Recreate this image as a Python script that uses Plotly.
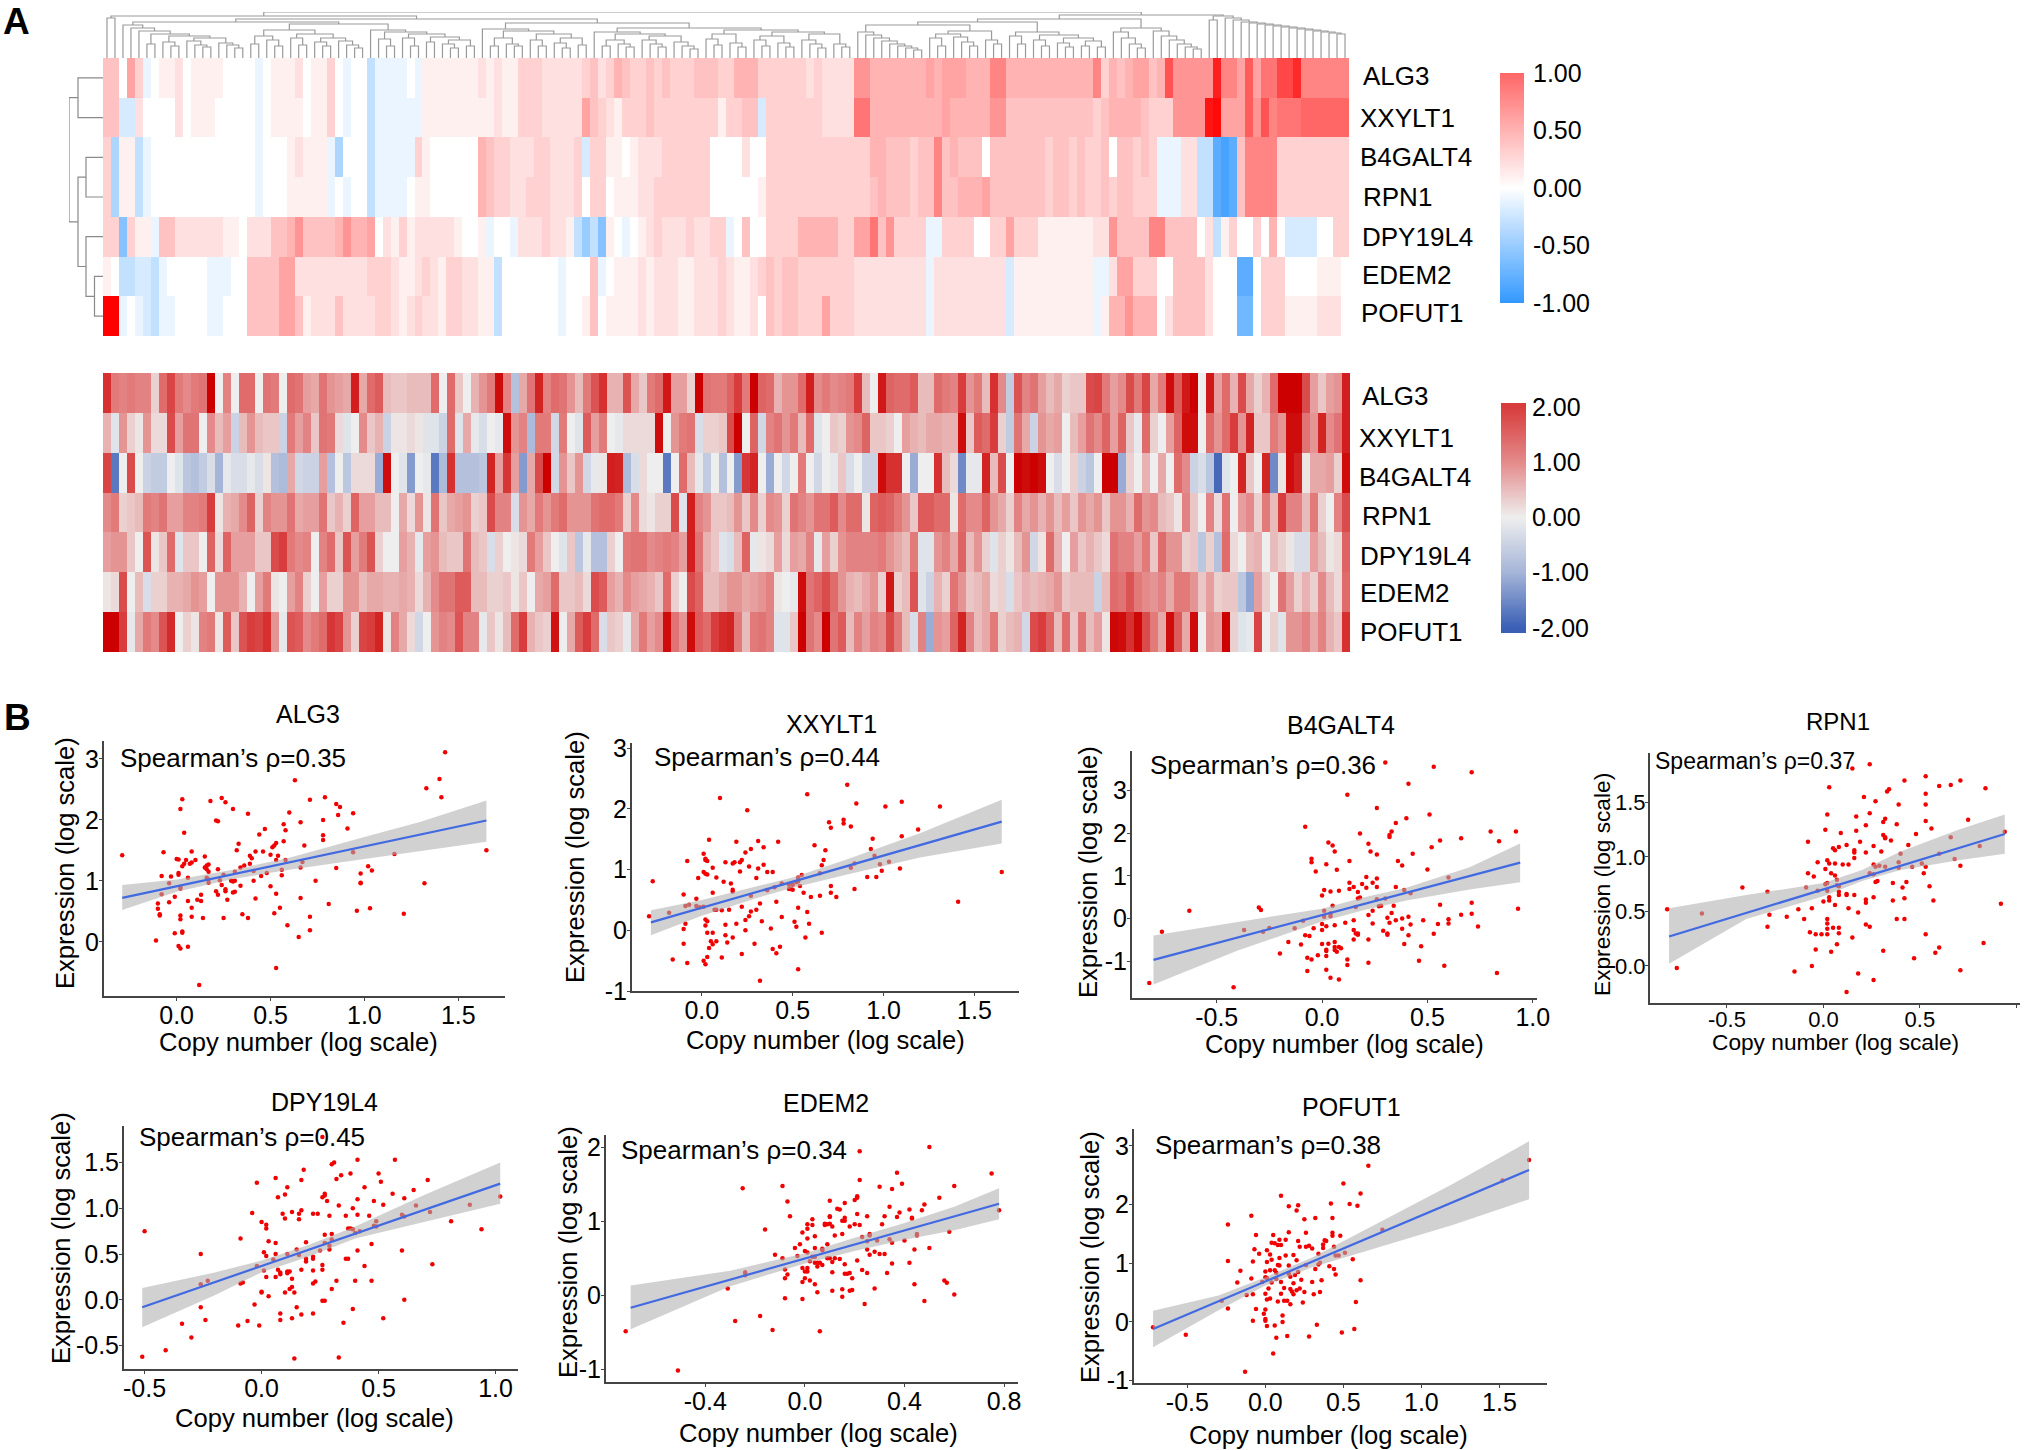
import numpy as np
import plotly.graph_objects as go

W, H = 2030, 1450
FONT = "Liberation Sans"
GENES = ["ALG3", "XXYLT1", "B4GALT4", "RPN1", "DPY19L4", "EDEM2", "POFUT1"]

# Upper heat map, correlation per sample in tenths, one list per gene
A_ALG3 = [4,4,0,6,3,-1,0,1,1,2,0,1,1,1,1,0,0,0,0,-1,
 0,1,1,1,2,0,1,1,3,0,-1,0,0,-3,-1,-1,-1,-1,0,-1,
 1,1,1,1,1,1,1,2,1,2,1,1,3,3,3,2,2,2,2,2,
 3,4,2,3,5,4,3,3,4,3,4,3,3,3,4,4,4,3,3,5,
 5,5,3,3,3,3,3,3,2,3,2,2,2,2,7,7,5,5,5,5,
 5,5,5,6,5,6,6,6,5,5,5,8,8,5,5,5,5,5,5,5,
 5,5,5,5,8,3,5,4,5,6,6,4,5,12,7,7,7,7,7,17,
 8,8,6,11,6,9,9,13,13,16,8,8,8,8,8,8]
A_XXYLT1 = [4,4,-2,-2,2,0,0,0,0,2,0,1,1,1,0,0,0,0,0,-1,
 0,1,1,1,1,0,1,1,3,0,-1,0,0,-3,-1,-1,-1,-1,-1,-1,
 1,1,1,1,1,1,1,1,1,2,1,1,3,3,3,2,2,2,2,2,
 6,4,3,2,1,3,3,3,4,3,3,3,3,3,3,3,3,1,3,3,
 4,4,-2,3,3,3,3,3,3,3,2,2,2,2,9,9,5,5,5,5,
 5,5,5,5,5,6,5,5,5,5,5,7,7,4,4,4,4,4,4,4,
 4,4,4,4,3,4,5,5,5,5,4,3,3,3,7,7,7,7,18,19,
 6,6,6,11,7,12,8,9,9,9,10,10,10,10,10,10]
A_B4GALT4 = [3,-4,1,1,-3,-1,0,0,0,0,0,0,0,0,0,0,0,0,0,-1,
 0,0,0,1,2,1,1,1,-1,-4,0,0,0,-3,-1,-1,-1,-1,-1,3,
 1,0,0,0,0,0,0,5,4,3,3,2,2,2,3,3,2,2,2,3,
 -2,3,3,1,1,0,1,2,2,2,3,3,3,3,3,3,0,0,0,0,
 2,0,0,3,3,3,3,3,3,3,3,3,3,3,3,3,5,5,4,4,
 4,3,4,4,8,4,5,4,4,4,0,4,4,4,4,4,4,4,3,4,
 4,3,4,3,3,4,0,4,4,3,4,3,-1,-1,-1,2,2,-3,-3,-8,
 -9,-8,4,8,8,8,8,3,3,3,3,3,3,3,3,3]
A_RPN1 = [3,-4,1,1,-3,-1,0,0,0,0,0,0,0,0,0,0,0,0,0,-1,
 0,0,0,1,1,1,1,1,-1,0,-1,0,0,-3,-1,-1,-1,-1,0,1,
 1,0,0,0,0,0,0,5,4,3,3,2,2,3,3,3,2,2,2,3,
 0,3,3,0,1,1,1,2,2,3,3,3,3,3,3,3,0,0,0,0,
 0,0,1,3,3,3,3,3,3,3,3,3,3,3,3,3,4,5,4,4,
 4,3,4,4,8,4,4,5,5,5,6,4,4,4,4,4,4,4,3,4,
 4,3,4,3,3,4,3,4,4,3,3,3,-1,-1,-1,2,2,-3,-3,-8,
 -9,-8,4,8,8,8,8,3,3,3,3,3,3,3,3,3]
A_DPY19L4 = [3,3,-6,3,1,1,-1,4,4,2,2,2,2,2,2,1,1,0,2,2,
 2,4,4,5,7,4,4,4,4,5,7,5,5,6,0,2,1,3,1,2,
 2,2,2,2,1,0,0,1,-1,0,0,-1,2,2,2,3,2,2,1,-3,
 -5,-3,-6,1,0,-1,0,1,2,3,2,2,2,3,2,2,3,3,-1,0,
 4,0,0,3,3,3,3,5,5,5,5,5,3,3,6,6,9,4,7,3,
 3,3,3,-1,-1,3,3,3,3,0,0,3,3,6,3,3,3,1,1,1,
 1,1,1,1,2,2,7,4,4,4,4,8,8,4,4,4,4,0,2,-3,
 1,3,0,0,3,0,5,0,-2,-2,-2,-2,0,0,3,3]
A_EDEM2 = [1,0,-3,-3,-2,-2,-3,-1,0,0,0,0,0,-1,-1,-1,0,0,4,4,
 4,4,6,6,2,2,2,2,2,2,2,2,2,3,3,3,2,1,1,2,
 3,2,1,3,3,2,2,1,1,-3,0,0,0,0,0,0,0,-1,0,0,
 0,4,-1,0,1,1,1,2,1,2,2,2,1,1,2,2,2,3,2,1,
 1,2,3,4,3,4,4,3,3,3,3,3,3,3,2,2,2,2,2,2,
 2,2,2,-1,2,2,2,2,2,2,2,2,2,-2,1,1,1,1,1,1,
 1,1,1,1,-1,-1,2,6,6,3,3,3,0,0,4,4,4,4,2,0,
 0,0,-8,-8,0,3,3,3,0,0,0,0,1,1,1,0]
A_POFUT1 = [20,20,-1,0,-1,-2,-3,-1,-1,0,0,0,0,-1,-1,0,0,0,4,4,
 4,4,6,6,4,1,2,2,2,4,2,2,2,2,3,3,2,1,2,3,
 2,2,1,3,3,2,2,1,1,-3,0,0,0,0,0,0,0,-1,0,0,
 1,4,0,1,1,1,1,2,1,2,2,2,1,1,2,2,2,3,2,1,
 1,2,0,4,3,4,4,3,3,3,6,3,3,3,2,2,2,2,2,2,
 2,2,2,-1,2,2,2,2,2,2,2,2,2,-2,1,1,1,1,1,1,
 1,1,1,1,-1,1,5,5,7,5,5,5,0,2,4,4,4,4,2,0,
 0,0,-7,-7,0,3,3,3,1,1,1,1,2,2,2,0]

# Lower heat map, expression per sample in tenths
B_ALG3 = [22,12,11,12,11,11,3,14,19,12,10,12,13,30,0,11,0,14,14,0,
 13,12,0,14,13,8,7,13,9,8,7,25,7,14,16,5,4,4,5,5,
 5,14,0,14,4,0,6,9,12,28,11,-8,7,13,24,11,14,13,9,5,
 12,17,22,6,6,17,7,4,12,14,26,8,8,3,30,13,12,12,15,20,
 12,30,15,14,6,9,9,14,25,10,12,10,11,12,20,5,0,26,15,14,
 14,16,5,5,14,12,11,20,9,12,5,22,10,-6,17,11,13,8,5,7,
 3,4,4,18,19,12,8,10,18,12,19,7,12,28,16,26,30,0,26,8,
 14,6,18,7,3,6,14,32,32,32,18,8,4,8,9,25]
B_XXYLT1 = [6,-2,9,3,1,9,2,2,18,8,13,13,0,10,5,8,-5,5,9,5,
 4,4,-5,12,8,11,4,13,12,2,-2,0,10,4,6,-5,1,1,2,1,
 -2,-2,-5,14,-2,7,-1,-3,0,-1,28,9,11,-9,12,12,-4,12,0,-2,
 16,8,12,0,-1,2,2,2,2,28,0,9,12,13,-3,3,3,4,18,32,
 0,15,-4,11,13,9,12,5,14,-2,0,4,3,9,10,15,4,4,3,0,
 8,6,5,7,7,6,6,28,4,16,14,20,3,-6,13,7,-5,9,7,8,
 0,5,8,13,10,15,8,15,4,-1,14,3,0,8,15,28,28,0,14,9,
 14,20,9,24,4,4,12,9,28,28,13,9,24,10,13,25]
B_B4GALT4 = [19,-17,0,18,0,-5,-6,-6,0,-2,-7,-8,-6,-3,-10,-1,-3,-3,-1,-3,
 1,-8,-9,7,-4,-5,-5,8,-8,0,-7,2,2,2,-11,28,0,-2,-13,0,
 -1,-17,-9,22,-8,-8,-8,-7,24,8,21,8,-13,7,18,30,-4,9,4,9,
 -4,-1,1,25,24,-9,-3,2,0,0,-17,0,14,5,-1,-6,0,-8,0,-13,
 21,24,0,-11,0,-4,0,12,0,-4,0,-1,4,-3,0,-5,-5,28,22,22,
 0,-11,0,0,22,5,2,-15,-1,-1,24,5,18,0,30,28,30,28,0,-3,
 0,3,-5,-7,0,30,30,-11,3,0,6,0,7,0,14,10,-5,-3,-7,-19,
 -2,0,24,4,0,24,-15,1,28,24,1,7,7,8,3,28]
B_RPN1 = [10,12,3,4,5,12,11,13,8,8,11,11,12,20,1,6,7,10,15,3,
 11,9,9,13,7,8,8,13,4,6,3,15,8,8,5,5,0,7,2,9,
 1,13,4,7,8,9,3,4,18,11,11,-3,9,7,12,9,12,14,9,9,
 9,13,14,14,12,3,10,2,1,3,3,18,-2,25,11,9,4,4,5,9,
 4,10,3,10,9,3,13,11,9,13,13,16,10,14,14,1,15,16,15,12,
 9,4,16,16,14,14,1,14,10,10,15,9,7,3,11,7,9,6,9,5,
 8,4,9,7,9,4,9,9,6,14,9,10,5,4,1,11,4,0,11,2,
 13,0,8,10,3,12,5,20,11,11,5,12,3,0,11,18]
B_DPY19L4 = [8,9,9,4,0,17,1,4,14,-2,4,4,0,15,2,15,8,8,8,4,
 4,18,20,12,10,11,0,11,14,4,17,8,12,17,3,0,0,8,6,-1,
 8,9,5,4,4,13,5,4,-3,3,0,1,2,12,8,4,0,-2,4,-7,
 -1,-8,-8,3,0,12,13,13,10,11,12,11,8,25,13,6,4,-2,-3,5,
 15,-1,1,2,8,2,8,7,11,-1,8,3,9,11,11,11,11,12,9,7,
 5,12,-2,-2,9,11,7,15,5,9,3,-2,3,1,5,9,-4,1,14,6,
 0,8,4,6,4,2,13,11,11,8,12,4,14,9,9,3,4,-7,3,-8,
 14,2,0,5,6,0,5,3,1,-3,-3,8,5,1,2,15]
B_EDEM2 = [1,2,18,0,5,-3,3,3,6,6,7,9,8,0,9,9,9,6,0,8,
 12,1,0,8,11,3,0,8,3,3,9,9,5,7,7,6,6,7,6,2,
 6,10,13,13,16,16,5,5,3,3,4,1,4,0,7,8,14,4,4,5,
 2,18,16,8,6,10,8,7,6,4,14,3,0,18,15,5,5,7,9,9,
 7,8,9,11,1,0,-1,28,13,15,18,14,9,6,5,7,9,3,26,3,
 5,17,-2,-5,6,3,13,9,4,5,7,2,3,-3,4,6,5,6,7,9,
 4,5,5,5,-5,5,14,13,17,12,10,9,11,7,12,12,9,4,8,3,
 4,4,-7,-12,8,3,0,13,8,3,6,3,10,5,2,14]
B_POFUT1 = [30,30,20,-1,7,12,10,17,23,0,3,1,11,12,1,16,4,17,20,19,
 22,9,-1,17,16,10,12,14,21,19,9,3,19,20,24,1,11,7,2,-4,
 0,9,11,10,17,11,11,-1,4,1,5,14,20,6,4,3,27,0,7,16,
 20,14,-3,4,3,-1,7,12,8,10,28,13,9,28,16,14,20,23,24,12,
 5,12,13,11,-2,-2,4,30,13,10,32,13,16,5,11,8,11,10,18,12,
 5,-3,11,-11,9,8,15,24,11,5,7,12,3,5,6,-4,18,20,15,5,
 14,4,13,5,8,1,29,28,22,29,18,12,7,28,16,7,28,0,9,8,
 30,3,-2,-1,19,0,3,-2,9,9,11,7,11,6,4,22]

# Copy number / expression pairs per gene
PTS_ALG3 = [(-.29,1.42),(-.07,1.47),(-.08,1.08),(-.03,1.07),(-.04,.96),(-.08,.78),(-.01,.74),(-.04,.65),(-.10,.63),(-.10,.54),(-.09,.45),(-.09,.43),(-.11,.02),(-.01,.14),(.01,-.07),(.02,-.11),(.06,-.08),(.03,.15),(.03,.17),(.02,.37),(.02,.43),(.08,.41),(.08,.56),(.06,.67),(.11,.69),(.13,.67),(.13,.77),(.14,.39),(.12,-.71),(0,1.36),(.01,1.35),(.01,1.13),(.01,1.1),(.02,.87),(.02,.9),(.06,1.05),(.03,1.24),(.04,1.28),(.05,1.34),(.07,1.28),(.08,1.3),(.10,1.34),(.08,1.48),(.15,1.4),(.17,1.27),(.16,1.25),(.15,1.22),(.16,1.19),(.17,1.15),(.16,1.05),(.17,1.02),(.17,.97),(.22,1.19),(.21,.83),(.22,.77),(.25,1.1),(.23,1.01),(.24,.93),(.26,.86),(.26,.83),(.27,.69),(.25,.39),(.29,1.0),(.30,.99),(.31,1.0),(.31,1.15),(.31,.82),(.30,.81),(.34,1.22),(.36,1.25),(.34,.92),(.35,.45),(.38,.39),(.32,1.5),(.33,1.61),(.39,1.41),(.40,1.37),(.39,1.28),(.42,1.48),(.41,1.16),(.41,1.0),(.42,.71),(.45,1.08),(.46,1.48),(.48,1.13),(.5,1.43),(.5,.91),(.53,.79),(.52,.47),(.55,.56),(.53,-.43),(.44,1.76),(.47,1.85),(.51,1.55),(.52,1.58),(.53,1.62),(.57,1.65),(.57,1.93),(.58,1.83),(.54,1.41),(.53,1.34),(.58,1.34),(.56,1.18),(.56,1.09),(.60,2.12),(.59,.27),(.63,2.65),(.66,1.96),(.66,1.22),(.66,.72),(.67,1.31),(.68,1.58),(.65,.08),(.71,2.33),(.71,.41),(.71,.19),(.74,1.0),(.79,2.37),(.78,2.0),(.78,1.75),(.78,1.67),(.81,.62),(.85,2.26),(.87,2.21),(.86,2.08),(.85,1.21),(.94,2.11),(.91,1.86),(.94,1.47),(.98,1.12),(.98,.97),(.98,.96),(.96,.51),(1.02,1.24),(1.04,1.17),(1.03,.55),(1.16,1.44),(1.21,.46),(1.32,.96),(1.33,2.52),(1.40,2.67),(1.41,2.37),(1.43,3.11),(1.65,1.5),(.02,2.18),(.03,2.34),(.04,1.79),(.18,2.31),(.24,2.36),(.26,2.29),(.30,2.18),(.21,1.99),(.22,1.98),(.38,2.1)]
PTS_XXYLT1 = [(-.29,.23),(-.27,.81),(-.18,.29),(-.16,-.48),(-.10,.59),(-.08,1.14),(-.09,.40),(-.07,.42),(-.09,.11),(-.10,.02),(-.10,-.22),(-.08,-.54),(-.03,.52),(-.03,.40),(-.02,.86),(-.01,.38),(.01,.96),(.01,.39),(.01,1.26),(.02,1.18),(.02,1.16),(.03,1.14),(.02,.93),(.03,.92),(.02,.18),(.03,.15),(.02,.08),(.03,-.04),(.01,-.50),(.03,-.44),(.02,-.56),(.04,-.29),(.05,-.18),(.06,-.04),(.06,-.23),(.08,-.18),(.04,1.49),(.06,1.03),(.06,.62),(.07,.34),(.08,.34),(.08,.87),(.11,.33),(.11,-.45),(.10,2.18),(.12,.80),(.13,1.12),(.13,.09),(.13,-.08),(.14,-.20),(.15,.34),(.16,.77),(.17,.67),(.17,.64),(.17,-.12),(.17,1.10),(.18,1.12),(.19,1.46),(.19,.11),(.21,1.12),(.22,1.16),(.21,.97),(.22,.39),(.22,-.39),(.24,1.28),(.25,1.98),(.26,1.05),(.24,.17),(.24,0),(.26,.23),(.27,1.34),(.27,.57),(.27,.31),(.29,-.22),(.30,.34),(.31,1.47),(.31,1.02),(.30,.86),(.32,.44),(.33,.15),(.32,-.83),(.34,1.08),(.34,1.37),(.36,.96),(.36,.66),(.39,.96),(.38,.03),(.39,-.31),(.41,-.38),(.42,1.46),(.41,.47),(.43,-.27),(.44,.22),(.40,.71),(.44,.77),(.48,.75),(.48,.68),(.50,.75),(.49,.68),(.50,.67),(.52,.79),(.53,.87),(.53,.81),(.54,.73),(.55,.91),(.56,.62),(.53,.37),(.51,.14),(.52,.06),(.57,-.12),(.58,.30),(.59,.11),(.53,-.64),(.60,.55),(.58,2.24),(.62,1.40),(.65,.57),(.65,.94),(.66,1.07),(.66,-.04),(.68,1.32),(.67,1.16),(.70,1.78),(.71,1.69),(.71,.73),(.71,.62),(.74,.55),(.78,1.82),(.78,1.76),(.82,1.71),(.80,2.40),(.85,2.09),(.82,1.03),(.84,1.10),(.84,.68),(.91,.88),(.93,1.34),(.94,1.51),(.95,1.23),(.96,.88),(.98,1.09),(.99,.98),(1.01,2.04),(1.03,1.13),(1.09,1.02),(1.10,1.55),(1.10,2.12),(1.19,1.66),(1.31,2.04),(1.41,.47),(1.65,.96)]
PTS_B4GALT4 = [(-.82,-1.51),(-.76,-.31),(-.63,.18),(-.42,-1.61),(-.37,-.27),(-.30,.26),(-.29,.2),(-.28,-.31),(-.25,-.22),(-.20,-.82),(-.16,-.55),(-.13,-.23),(-.10,-.61),(-.09,-.05),(-.08,-.39),(-.08,2.15),(-.07,-1.23),(-.06,-.41),(-.07,-.92),(-.05,1.40),(-.05,1.32),(-.05,-.96),(-.04,-.23),(-.03,1.10),(-.02,-.86),(0,.54),(0,-.13),(0,-.60),(0,-.27),(.01,.67),(.01,.04),(.01,.18),(.02,-.18),(.02,1.27),(.02,-1.20),(.02,-.76),(.02,-.73),(.03,1.78),(.02,-.88),(.04,.63),(.04,.12),(.04,.05),(.04,-1.39),(.05,1.71),(.06,1.57),(.05,.30),(.06,-.55),(.06,-.16),(.03,-.59),(.06,-.67),(.06,-.74),(.07,-.78),(.08,-.67),(.09,-.70),(.07,1.14),(.08,.65),(.08,-1.43),(.11,-.10),(.12,-.96),(.12,-1.09),(.12,2.90),(.13,1.35),(.13,.84),(.13,.69),(.15,-.04),(.15,.74),(.15,-.27),(.15,-.49),(.16,.27),(.16,-.35),(.17,-.38),(.17,-.35),(.17,.47),(.18,.49),(.17,.62),(.18,1.99),(.19,.81),(.21,.72),(.21,.97),(.22,.08),(.22,1.75),(.22,-.49),(.22,-1.04),(.23,1.57),(.24,.84),(.24,.18),(.24,-.12),(.26,.94),(.26,2.59),(.26,1.50),(.26,.74),(.26,.45),(.27,.29),(.28,.30),(.29,-.29),(.30,.47),(.30,3.66),(.31,.02),(.31,-.38),(.31,-.35),(.32,1.91),(.32,1.96),(.33,2.04),(.32,-.10),(.34,.30),(.33,.13),(.35,2.24),(.35,.74),(.35,-.04),(.36,1.35),(.38,1.24),(.38,-.24),(.38,0),(.39,.67),(.39,-.60),(.40,2.35),(.41,3.16),(.41,.04),(.41,-.39),(.42,.59),(.42,-.14),(.43,1.52),(.46,-.99),(.47,-.65),(.48,-.04),(.50,1.15),(.51,2.44),(.52,1.67),(.53,-.36),(.53,3.56),(.55,-.13),(.56,.32),(.56,1.83),(.58,-1.11),(.60,.96),(.60,-.02),(.60,-.12),(.66,.09),(.66,1.88),(.71,3.43),(.71,.37),(.71,.11),(.74,-.19),(.80,2.04),(.83,-1.28),(.84,1.81),(.92,2.04),(.93,.23)]
PTS_RPN1 = [(-.81,.52),(-.76,-.02),(-.63,.48),(-.42,.72),(-.29,.68),(-.29,.36),(-.28,.47),(-.19,.45),(-.15,-.05),(-.13,.52),(-.10,.43),(-.09,.72),(-.08,1.14),(-.08,.85),(-.06,.53),(-.07,.31),(-.06,0),(-.05,.82),(-.04,.29),(-.04,.15),(-.03,.69),(-.03,.95),(-.01,.29),(0,.59),(.01,1.25),(.01,.89),(.01,.75),(.02,.97),(.02,.76),(.02,.69),(.02,.29),(.02,.43),(.02,.39),(.02,.34),(.02,1.39),(.03,1.64),(.03,.94),(.03,.63),(.03,.6),(.04,.85),(.05,1.08),(.04,.13),(.06,1.06),(.06,.94),(.05,.35),(.06,.56),(.06,.83),(.07,.79),(.07,.74),(.08,.73),(.08,.68),(.08,.65),(.08,.35),(.08,.3),(.07,.2),(.09,1.22),(.08,1.09),(.10,.93),(.12,1.11),(.13,.93),(.12,.66),(.12,.65),(.13,.53),(.12,-.24),(.15,.26),(.16,.99),(.16,1.06),(.16,1.04),(.16,.65),(.17,1.37),(.17,1.24),(.18,.49),(.18,-.07),(.19,1.14),(.21,1.55),(.22,1.04),(.22,.58),(.22,.61),(.22,.38),(.22,1.29),(.24,.36),(.24,1.40),(.24,.85),(.26,1.10),(.26,.93),(.27,.91),(.26,.84),(.26,-.13),(.26,.63),(.27,.77),(.28,.78),(.27,1.51),(.29,.92),(.30,1.05),(.31,1.32),(.31,.14),(.32,.91),(.31,1.20),(.32,1.18),(.32,1.17),(.32,1.35),(.33,1.60),(.34,1.62),(.35,1.15),(.36,.76),(.36,.6),(.38,1.30),(.39,1.48),(.39,.90),(.39,.95),(.38,.43),(.40,1.03),(.41,.72),(.42,.62),(.42,.43),(.43,.77),(.42,1.70),(.44,1.11),(.47,.07),(.46,.91),(.48,1.21),(.51,.94),(.52,.85),(.53,.91),(.53,1.74),(.53,1.58),(.53,1.48),(.53,1.33),(.53,.29),(.55,.73),(.56,1.26),(.57,.6),(.58,.12),(.60,.17),(.60,1.03),(.60,1.65),(.66,1.66),(.66,1.18),(.68,.98),(.71,1.70),(.71,.92),(.71,-.04),(.75,1.34),(.81,1.10),(.84,1.63),(.83,.21),(.92,.57),(.94,1.23),(.15,1.81),(.24,1.85)]
PTS_DPY19L4 = [(-.51,-.62),(-.50,.75),(-.41,-.55),(-.34,-.26),(-.30,-.41),(-.26,.50),(-.26,.17),(-.26,-.08),(-.24,-.22),(-.23,.21),(-.10,-.28),(-.09,.67),(-.09,.18),(-.08,.19),(-.06,-.23),(-.04,.95),(-.03,-.05),(-.02,1.28),(-.02,.37),(-.01,-.28),(0,.85),(0,.09),(0,.08),(.01,.32),(.01,.52),(.02,.82),(.02,.78),(.02,.25),(.02,.48),(.03,.04),(.03,.64),(.05,.44),(.06,.25),(.06,1.33),(.06,.62),(.06,.5),(.07,1.12),(.07,.33),(.08,.28),(.08,-.15),(.08,-.22),(.08,.3),(.09,.94),(.10,1.15),(.10,.89),(.10,.08),(.11,1.23),(.11,.31),(.11,.50),(.11,.29),(.12,.31),(.12,.12),(.13,.23),(.13,.14),(.13,.96),(.14,.08),(.13,-.2),(.15,-.08),(.15,.55),(.16,.88),(.16,.49),(.17,.33),(.17,-.16),(.16,.94),(.17,.98),(.17,1.31),(.18,1.42),(.19,.63),(.19,.45),(.19,.42),(.22,.94),(.22,.47),(.22,.32),(.22,.18),(.22,.45),(.22,-.15),(.23,.20),(.24,.94),(.25,.54),(.26,.38),(.26,.33),(.26,-.01),(.27,-.01),(.26,1.12),(.27,1.14),(.27,1.16),(.28,1.08),(.27,.62),(.27,.71),(.29,.55),(.29,.59),(.29,.92),(.30,.66),(.30,.72),(.30,1.48),(.31,1.50),(.32,1.32),(.30,.12),(.32,.21),(.33,1.03),(.34,1.36),(.35,-.25),(.36,.92),(.36,.45),(.37,.45),(.38,1.38),(.37,.78),(.38,.78),(.39,1.0),(.39,-.10),(.39,.77),(.40,.73),(.40,.21),(.41,.93),(.41,1.10),(.41,1.53),(.41,.54),(.42,.75),(.44,1.23),(.44,.37),(.46,.92),(.47,.21),(.47,.61),(.48,1.08),(.48,.81),(.49,.86),(.49,.80),(.50,1.38),(.51,1.29),(.52,1.04),(.52,-.2),(.56,1.16),(.57,1.53),(.60,.93),(.60,.54),(.61,.91),(.61,1.11),(.61,0),(.65,1.20),(.66,1.03),(.71,1.31),(.72,.96),(.73,.39),(.81,.86),(.89,1.04),(.94,.77),(1.02,1.13),(.14,-.64),(.33,-.63),(.26,1.78)]
PTS_EDEM2 = [(-.72,-.49),(-.51,-1.02),(-.31,.09),(-.28,-.35),(-.25,1.45),(-.24,.31),(-.24,.27),(-.18,-.28),(-.16,.89),(-.13,-.47),(-.12,.55),(-.09,1.48),(-.09,.5),(-.08,.35),(-.08,-.04),(-.08,.23),(-.07,1.27),(-.07,.28),(-.06,1.07),(-.04,.64),(-.03,.53),(-.02,.69),(-.01,.85),(-.01,-.05),(-.01,.37),(-.01,.18),(0,.32),(0,.23),(0,.6),(.01,.58),(.01,.77),(.01,.9),(.01,.96),(.01,.32),(.01,.37),(.02,.46),(.02,.2),(.03,1.03),(.03,.95),(.03,.52),(.04,.8),(.04,.15),(.04,.44),(.04,.64),(.04,.52),(.05,.44),(.05,.39),(.05,.04),(.06,.44),(.06,-.49),(.07,.61),(.07,.63),(.07,.41),(.08,.97),(.08,.95),(.09,.5),(.09,.69),(.09,.96),(.10,1.06),(.10,1.07),(.10,1.28),(.10,.97),(.10,.5),(.11,.06),(.11,.45),(.11,.93),(.11,.31),(.12,.81),(.13,1.17),(.12,.5),(.14,.49),(.14,1.16),(.15,.83),(.15,.08),(.15,-.02),(.15,1.01),(.16,1.25),(.16,.42),(.16,1.05),(.16,1.01),(.16,.29),(.17,.29),(.18,.3),(.18,.06),(.18,.93),(.19,.07),(.19,.23),(.20,.96),(.20,1.29),(.21,1.32),(.21,1.34),(.21,1.1),(.21,.47),(.22,1.95),(.22,1.56),(.22,.95),(.23,.79),(.23,.34),(.24,-.12),(.25,.73),(.25,.62),(.25,.3),(.25,1.07),(.26,.83),(.26,.81),(.26,.55),(.28,.59),(.28,.09),(.29,.74),(.30,.56),(.30,1.47),(.31,.96),(.32,.56),(.32,1.07),(.33,.3),(.34,1.2),(.34,.76),(.35,.71),(.35,1.44),(.35,.43),(.37,1.06),(.37,1.66),(.38,1.12),(.39,1.51),(.40,.74),(.42,1.16),(.42,.44),(.43,1.04),(.43,1.05),(.44,.62),(.44,.15),(.45,.81),(.45,.83),(.47,1.15),(.48,1.23),(.48,-.08),(.50,2.01),(.50,.64),(.54,1.32),(.56,.2),(.57,.17),(.58,.86),(.60,1.48),(.60,.01),(.75,1.65),(.78,1.15)]
PTS_POFUT1 = [(-.72,-.09),(-.51,-.22),(-.28,.36),(-.24,1.66),(-.24,.23),(-.24,1.04),(-.18,.67),(-.16,.87),(-.13,-.85),(-.12,.46),(-.09,1.81),(-.08,1.03),(-.09,.74),(-.08,.47),(-.08,.02),(-.07,1.24),(-.06,.22),(-.06,1.48),(-.04,1.16),(-.02,.68),(-.01,.14),(0,.86),(0,.76),(0,.02),(0,.21),(.01,.38),(.01,1.22),(.01,1.02),(.01,.75),(0,.48),(.02,.57),(0,.05),(.01,-.07),(.03,.88),(.03,1.15),(.04,1.06),(.03,.4),(.04,.67),(.05,1.48),(.04,1.35),(.05,-.54),(.06,1.34),(.06,-.06),(.06,.88),(.07,.84),(.07,.73),(.08,.97),(.08,.35),(.07,-.27),(.08,1.31),(.09,1.40),(.09,.96),(.09,1.09),(.10,2.15),(.10,.68),(.10,1.31),(.10,.48),(.11,.11),(.11,0),(.12,.58),(.13,1.13),(.12,.36),(.14,.36),(.13,1.40),(.14,-.24),(.15,1.97),(.15,1.53),(.15,.96),(.16,.3),(.15,.82),(.16,.77),(.16,.56),(.18,1.14),(.18,.66),(.17,.52),(.18,.47),(.19,.8),(.20,1.05),(.20,1.9),(.21,1.99),(.20,.54),(.21,.85),(.21,1.38),(.22,.57),(.22,1.28),(.23,.72),(.24,.33),(.25,.51),(.25,1.75),(.26,1.52),(.26,.97),(.26,1.28),(.28,1.30),(.28,-.25),(.30,1.25),(.30,.68),(.31,.47),(.32,1.77),(.32,.9),(.33,-.05),(.34,1.16),(.34,.98),(.35,1.01),(.35,.51),(.36,.71),(.37,1.32),(.37,1.26),(.38,1.39),(.39,1.38),(.41,.95),(.42,2.02),(.43,1.47),(.43,1.77),(.43,1.52),(.44,.9),(.44,1.28),(.45,1.13),(.45,.81),(.47,1.13),(.48,1.47),(.49,-.18),(.50,2.36),(.51,1.18),(.54,2.01),(.56,1.07),(.57,-.12),(.58,.34),(.59,1.98),(.61,2.19),(.61,.71),(.66,2.66),(.75,1.57),(1.52,2.41),(1.69,2.76)]

# Regression fit ends and confidence ribbon: (x, lower, upper)
FIT_ALG3 = [(-.29,.72),(1.65,1.99)]
BAND_ALG3 = [(-.29,.52,.93),(0,.82,1.02),(.3,1.03,1.18),(.6,1.18,1.38),(1.0,1.36,1.72),(1.3,1.49,1.97),(1.65,1.64,2.32)]
FIT_XXYLT1 = [(-.28,.13),(1.65,1.79)]
BAND_XXYLT1 = [(-.28,-.08,.33),(0,.24,.5),(.3,.53,.72),(.5,.7,.87),(.8,.92,1.17),(1.2,1.2,1.6),(1.65,1.43,2.15)]
FIT_B4GALT4 = [(-.8,-.97),(.94,1.31)]
BAND_B4GALT4 = [(-.8,-1.55,-.4),(-.4,-.75,-.08),(0,-.07,.23),(.2,.2,.5),(.4,.42,.72),(.7,.68,1.2),(.94,.85,1.76)]
FIT_RPN1 = [(-.8,.27),(.94,1.21)]
BAND_RPN1 = [(-.8,.02,.53),(-.4,.43,.65),(0,.64,.76),(.2,.78,.88),(.4,.88,1.05),(.7,.97,1.25),(.94,1.03,1.39)]
FIT_DPY19L4 = [(-.51,-.08),(1.02,1.27)]
BAND_DPY19L4 = [(-.51,-.3,.13),(-.2,.05,.3),(0,.3,.43),(.2,.47,.6),(.4,.67,.8),(.7,.85,1.15),(1.02,1.05,1.5)]
FIT_EDEM2 = [(-.7,-.17),(.78,1.24)]
BAND_EDEM2 = [(-.7,-.46,.13),(-.3,.12,.33),(0,.43,.57),(.2,.6,.78),(.4,.75,.98),(.6,.88,1.2),(.78,1.03,1.45)]
FIT_POFUT1 = [(-.72,-.12),(1.69,2.59)]
BAND_POFUT1 = [(-.72,-.43,.19),(-.3,.2,.45),(0,.62,.76),(.3,.93,1.1),(.7,1.25,1.65),(1.2,1.65,2.35),(1.69,2.09,3.08)]

RHO = {"ALG3": "0.35", "XXYLT1": "0.44", "B4GALT4": "0.36", "RPN1": "0.37",
       "DPY19L4": "0.45", "EDEM2": "0.34", "POFUT1": "0.38"}

# Sample clustering: (height, left, right); a list is a ladder of merge heights, [] is one leaf
G1 = (33, [], (30, [], (27, [], (24, [14], (22, [16, 12], (20, [17, 13, 11], [15, 13, 10]))))))
G2 = (28, (22, [14], [18, 12]), (24, [20, 13], (20, [16, 12], [17, 13, 10])))
G3 = (28, [], (26, (19, [], [12]), (24, [20, 12], (21, [16], (18, [14, 10], [12])))))
G4 = (29, [], (27, (20, [12], [14, 12]), (24, [18, 12], (20, [15, 10], [13]))))
G5 = (30, (26, [], (24, (18, [12], [14, 11]), (22, [18, 14, 11], [16, 12, 9]))),
      (28, (24, [19, 13], [15, 11]), (26, (22, [18, 12], [15, 11]), (24, [18, 14, 10], [14, 11]))))
G6 = (36, (33, [26, 23, 20, 17, 14, 12, 10, 8],
           (27, (24, [20, 12], [21, 16, 12]), [18, 14])),
      (26, [22, 14], (23, [18, 12], (20, [15, 11], (17, [12], [11])))))
G7 = (30, [26, 20, 14, 10], (27, [], [22, 18, 14, 11, 9]))
G8 = (42, [38], [40, 38, 36, 35, 34, 33, 32, 31, 30, 29, 28, 27, 26, 25, 24])
SAMPLE_TREE = (46, (42, [40], (39, (36, G1, (34, G2, G3)), (35, G4, G5))), (43, (39, G6, G7), G8))
GENE_TREE = (34, (25, [], []), (25, (17, [], []), (17, [], (8.5, [], []))))


def as_node(tree):
    if isinstance(tree, list):
        if not tree:
            return None
        return (tree[0], [], tree[1:] if len(tree) > 1 else [])
    return tree


def walk(tree, counter, out):
    node = as_node(tree)
    if node is None:
        counter[0] += 1
        return counter[0] - 1, 0
    h, left, right = node
    xl, hl = walk(left, counter, out)
    xr, hr = walk(right, counter, out)
    out.append(((xl, xl, xr, xr), (hl, h, h, hr)))
    return (xl + xr) / 2, h


def tree_lines(tree):
    segs, counter = [], [0]
    walk(tree, counter, segs)
    pos, hgt = [], []
    for p, h in segs:
        pos += list(p) + [None]
        hgt += list(h) + [None]
    return pos, hgt, counter[0]


fig = go.Figure()
layout = {}
annotations = []
n_axes = 0


def new_axes(left, right, top, bottom, xa, ya):
    global n_axes
    n_axes += 1
    k = "" if n_axes == 1 else str(n_axes)
    layout["xaxis" + k] = dict(domain=[left / W, right / W], anchor="y" + k, automargin=False, **xa)
    layout["yaxis" + k] = dict(domain=[1 - bottom / H, 1 - top / H], anchor="x" + k, automargin=False, **ya)
    return "x" + k, "y" + k


def label(text, x, y, size, anchor="left", angle=0, bold=False):
    annotations.append(dict(text="<b>%s</b>" % text if bold else text, x=x / W, y=1 - y / H,
                            xref="paper", yref="paper", xanchor=anchor, yanchor="middle",
                            showarrow=False, textangle=angle, align=anchor,
                            font=dict(family=FONT, size=size, color="black")))


hidden = dict(visible=False, showgrid=False, zeroline=False)
N_SAMPLES = 156

rows_a = [A_ALG3, A_XXYLT1, A_B4GALT4, A_RPN1, A_DPY19L4, A_EDEM2, A_POFUT1]
rows_b = [B_ALG3, B_XXYLT1, B_B4GALT4, B_RPN1, B_DPY19L4, B_EDEM2, B_POFUT1]
for r in rows_a + rows_b:
    assert len(r) == N_SAMPLES, len(r)
z_a = np.array(rows_a) / 10
z_b = np.array(rows_b) / 10

SCALE_A = [[0, "#3399ff"], [1 / 6, "#99ccff"], [1 / 3, "#ffffff"], [2 / 3, "#ff6666"], [1, "#ff0000"]]
SCALE_A_BAR = [[0, "#3399ff"], [.25, "#99ccff"], [.5, "#ffffff"], [1, "#ff6666"]]
SCALE_B = [[0, "#3a5fb5"], [.2, "#a5b5d8"], [.4, "#eeeeee"], [.6, "#e48a8a"], [.8, "#d83c3c"], [1, "#cc0000"]]
SCALE_B_BAR = [[0, "#3a5fb5"], [.25, "#a5b5d8"], [.5, "#eeeeee"], [.75, "#e48a8a"], [1, "#d83c3c"]]

col_range = dict(range=[-.5, N_SAMPLES - .5], **hidden)
row_range = dict(range=[6.5, -.5], **hidden)

xa, ya = new_axes(103, 1349, 58, 336, col_range, row_range)
fig.add_trace(go.Heatmap(z=z_a, x=list(range(N_SAMPLES)), y=list(range(7)), zmin=-1, zmax=2,
                         colorscale=SCALE_A, showscale=False, xaxis=xa, yaxis=ya))
xa, ya = new_axes(103, 1350, 373, 652, col_range, row_range)
fig.add_trace(go.Heatmap(z=z_b, x=list(range(N_SAMPLES)), y=list(range(7)), zmin=-2, zmax=3,
                         colorscale=SCALE_B, showscale=False, xaxis=xa, yaxis=ya))

# Dendrograms above and to the left of the upper heat map
pos, hgt, leaves = tree_lines(SAMPLE_TREE)
assert leaves == N_SAMPLES, leaves
xa, ya = new_axes(103, 1349, 12, 58, col_range, dict(range=[0, 46], **hidden))
fig.add_trace(go.Scatter(x=pos, y=hgt, mode="lines", line=dict(color="#9a9a9a", width=1.2),
                         xaxis=xa, yaxis=ya, hoverinfo="skip"))
pos, hgt, leaves = tree_lines(GENE_TREE)
xa, ya = new_axes(69, 103, 58, 336, dict(range=[34, 0], **hidden), row_range)
fig.add_trace(go.Scatter(x=hgt, y=pos, mode="lines", line=dict(color="#8a8a8a", width=1.2),
                         xaxis=xa, yaxis=ya, hoverinfo="skip"))


def color_strip(left, right, top, bottom, vmin, vmax, shown, scale, ticks, standoff):
    levels = np.linspace(shown[0], shown[1], 201)
    xa, ya = new_axes(left, right, top, bottom, dict(range=[-.5, .5], **hidden),
                      dict(range=list(shown), side="right", showgrid=False, zeroline=False,
                           showline=False, ticks="", tickvals=ticks,
                           ticktext=["%.2f" % t for t in ticks], ticklabelstandoff=standoff,
                           tickfont=dict(family=FONT, size=25, color="black")))
    fig.add_trace(go.Heatmap(z=[[v] for v in levels], x=[0], y=levels, zmin=vmin, zmax=vmax,
                             colorscale=scale, showscale=False, xaxis=xa, yaxis=ya))


color_strip(1500, 1524, 73, 303, -1, 1, (-1, 1), SCALE_A_BAR, [-1, -.5, 0, .5, 1], 8)
color_strip(1501, 1526, 403, 633, -2, 2, (-2.09, 2.07), SCALE_B_BAR, [-2, -1, 0, 1, 2], 5)

for gene, x, y in zip(GENES, [1361, 1358, 1358, 1361, 1360, 1360, 1359], [76, 118, 157, 197, 237, 275, 313]):
    label(gene, x, y, 26)
for gene, x, y in zip(GENES, [1360, 1357, 1357, 1360, 1358, 1358, 1358], [396, 438, 477, 516, 556, 593, 632]):
    label(gene, x, y, 26)
label("A", 1, 21, 37, bold=True)
label("B", 2, 717, 37, bold=True)

PANELS = [
    dict(gene="ALG3", pts=PTS_ALG3, fit=FIT_ALG3, band=BAND_ALG3, box=(104, 505, 741, 996),
         xr=(-.387, 1.749), yr=(-.89, 3.295), xt=[0, .5, 1, 1.5], yt=[0, 1, 2, 3], yfmt="%d", xfmt="%.1f",
         title=(308, 714), rho=(118, 758), xlab=(298, 1042), ylab=(65, 863)),
    dict(gene="XXYLT1", pts=PTS_XXYLT1, fit=FIT_XXYLT1, band=BAND_XXYLT1, box=(632, 1019, 743, 991),
         xr=(-.384, 1.745), yr=(-1.0, 3.086), xt=[0, .5, 1, 1.5], yt=[-1, 0, 1, 2, 3], yfmt="%d", xfmt="%.1f",
         title=(831, 724), rho=(652, 757), xlab=(825, 1040), ylab=(575, 857)),
    dict(gene="B4GALT4", pts=PTS_B4GALT4, fit=FIT_B4GALT4, band=BAND_B4GALT4, box=(1132, 1537, 751, 998),
         xr=(-.902, 1.02), yr=(-1.864, 3.927), xt=[-.5, 0, .5, 1], yt=[-1, 0, 1, 2, 3], yfmt="%d", xfmt="%.1f",
         title=(1341, 725), rho=(1148, 765), xlab=(1344, 1044), ylab=(1088, 872)),
    dict(gene="RPN1", pts=PTS_RPN1, fit=FIT_RPN1, band=BAND_RPN1, box=(1650, 2020, 753, 1003),
         xr=(-.899, 1.019), yr=(-.34, 1.953), xt=[-.5, 0, .5, 1], yt=[0, .5, 1, 1.5], yfmt="%.1f", xfmt="%.1f",
         title=(1838, 722), rho=(1653, 761), xlab=(1835, 1042), ylab=(1602, 885), small=True),
    dict(gene="DPY19L4", pts=PTS_DPY19L4, fit=FIT_DPY19L4, band=BAND_DPY19L4, box=(124, 518, 1126, 1369),
         xr=(-.588, 1.096), yr=(-.755, 1.899), xt=[-.5, 0, .5, 1], yt=[-.5, 0, .5, 1, 1.5], yfmt="%.1f", xfmt="%.1f",
         title=(324, 1102), rho=(137, 1137), xlab=(314, 1418), ylab=(61, 1238)),
    dict(gene="EDEM2", pts=PTS_EDEM2, fit=FIT_EDEM2, band=BAND_EDEM2, box=(606, 1018, 1135, 1382),
         xr=(-.799, .856), yr=(-1.176, 2.171), xt=[-.4, 0, .4, .8], yt=[-1, 0, 1, 2], yfmt="%d", xfmt="%.1f",
         title=(826, 1103), rho=(619, 1150), xlab=(818, 1433), ylab=(568, 1252)),
    dict(gene="POFUT1", pts=PTS_POFUT1, fit=FIT_POFUT1, band=BAND_POFUT1, box=(1134, 1547, 1129, 1383),
         xr=(-.842, 1.805), yr=(-1.041, 3.288), xt=[-.5, 0, .5, 1, 1.5], yt=[-1, 0, 1, 2, 3], yfmt="%d", xfmt="%.1f",
         title=(1351, 1107), rho=(1153, 1145), xlab=(1328, 1435), ylab=(1090, 1257)),
]

for p in PANELS:
    small = p.get("small", False)
    tick_size, text_size, axis_size = (22, 23, 22.7) if small else (25, 26, 25.6)
    axis_style = dict(showgrid=False, zeroline=False, showline=True, linecolor="#444444", linewidth=2,
                      ticks="outside", ticklen=3, tickcolor="#444444", tickwidth=1,
                      tickfont=dict(family=FONT, size=tick_size, color="black"))
    left, right, top, bottom = p["box"]
    xa, ya = new_axes(left, right, top, bottom,
                      dict(range=list(p["xr"]), tickvals=p["xt"], ticktext=[p["xfmt"] % v for v in p["xt"]],
                           ticklabelstandoff=-7, **axis_style),
                      dict(range=list(p["yr"]), tickvals=p["yt"], ticktext=[p["yfmt"] % v for v in p["yt"]],
                           ticklabelstandoff=-5, **axis_style))
    px, py = zip(*p["pts"])
    fig.add_trace(go.Scatter(x=px, y=py, mode="markers", marker=dict(color="#f00000", size=4.5),
                             xaxis=xa, yaxis=ya))
    bx, lo, up = zip(*p["band"])
    fig.add_trace(go.Scatter(x=list(bx) + list(bx[::-1]), y=list(lo) + list(up[::-1]), mode="lines",
                             fill="toself", fillcolor="rgba(176,176,176,0.58)", line=dict(width=0),
                             xaxis=xa, yaxis=ya, hoverinfo="skip"))
    fx, fy = zip(*p["fit"])
    fig.add_trace(go.Scatter(x=fx, y=fy, mode="lines", line=dict(color="#4169e1", width=2.2),
                             xaxis=xa, yaxis=ya))
    label(p["gene"], p["title"][0], p["title"][1], 24 if small else 25, anchor="center")
    label("Spearman’s ρ=" + RHO[p["gene"]], p["rho"][0], p["rho"][1], text_size)
    label("Copy number (log scale)", p["xlab"][0], p["xlab"][1], axis_size, anchor="center")
    label("Expression (log scale)", p["ylab"][0], p["ylab"][1], axis_size, anchor="center", angle=-90)

fig.update_layout(template="none", width=W, height=H, margin=dict(l=0, r=0, t=0, b=0, pad=0),
                  paper_bgcolor="white", plot_bgcolor="rgba(0,0,0,0)", showlegend=False,
                  annotations=annotations, **layout)
fig.write_html("out.html", config=dict(displayModeBar=False))
